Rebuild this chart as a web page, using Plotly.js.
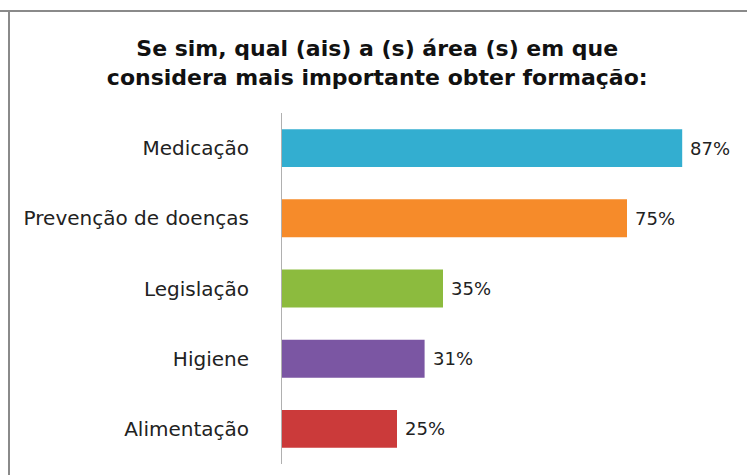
<!DOCTYPE html>
<html>
<head>
<meta charset="utf-8">
<script src="https://cdn.plot.ly/plotly-3.0.1.min.js"></script>
<style>html,body{margin:0;padding:0;background:#fff;}#chart{width:747px;height:475px;}</style>
</head>
<body>
<div id="chart"></div>
<script>
const categories = ["Medicação", "Prevenção de doenças", "Legislação", "Higiene", "Alimentação"];
const values = [87, 75, 35, 31, 25];
const barColors = ["#33aed0", "#f68b2a", "#8cbb3e", "#7b56a3", "#cb3a3a"];
const valueLabels = values.map(v => v + "%");
const titleText = "Se sim, qual (ais) a (s) área (s) em que<br>considera mais importante obter formação:";

const trace = {
  type: "bar",
  orientation: "h",
  y: categories,
  x: values,
  marker: {color: barColors, line: {width: 0}},
  hoverinfo: "skip"
};

const annotations = categories.map((c, i) => ({
  x: values[i], y: c, xref: "x", yref: "y",
  text: valueLabels[i], showarrow: false,
  xanchor: "left", xshift: 6,
  font: {family: "DejaVu Sans", size: 18, color: "#222"}
}));

const layout = {
  width: 747, height: 475,
  margin: {l: 282, r: 5, t: 113, b: 11},
  paper_bgcolor: "#fff", plot_bgcolor: "#fff",
  showlegend: false,
  bargap: 0.46,
  title: {
    text: titleText,
    x: 0.505, xanchor: "center", y: 0.882, yanchor: "middle",
    font: {family: "DejaVu Sans", size: 22, color: "#111", weight: "bold"}
  },
  xaxis: {range: [0, 100], visible: false, fixedrange: true},
  yaxis: {
    type: "category", autorange: "reversed",
    showline: true, linecolor: "#b0b0b0", linewidth: 1,
    ticks: "", showgrid: false, zeroline: false,
    ticklabelstandoff: 28,
    tickfont: {family: "DejaVu Sans", size: 20, color: "#222"}
  },
  annotations: annotations,
  shapes: [
    {type: "line", xref: "paper", yref: "paper", x0: -282/460, x1: 1.02, y0: 1 + 102/351, y1: 1 + 102/351, line: {color: "#8a8a8a", width: 2}},
    {type: "line", xref: "paper", yref: "paper", x0: -273/460, x1: -273/460, y0: 1 + 102/351, y1: -11/351, line: {color: "#8a8a8a", width: 2}}
  ]
};

Plotly.newPlot("chart", [trace], layout, {displayModeBar: false, staticPlot: true});
</script>
</body>
</html>
